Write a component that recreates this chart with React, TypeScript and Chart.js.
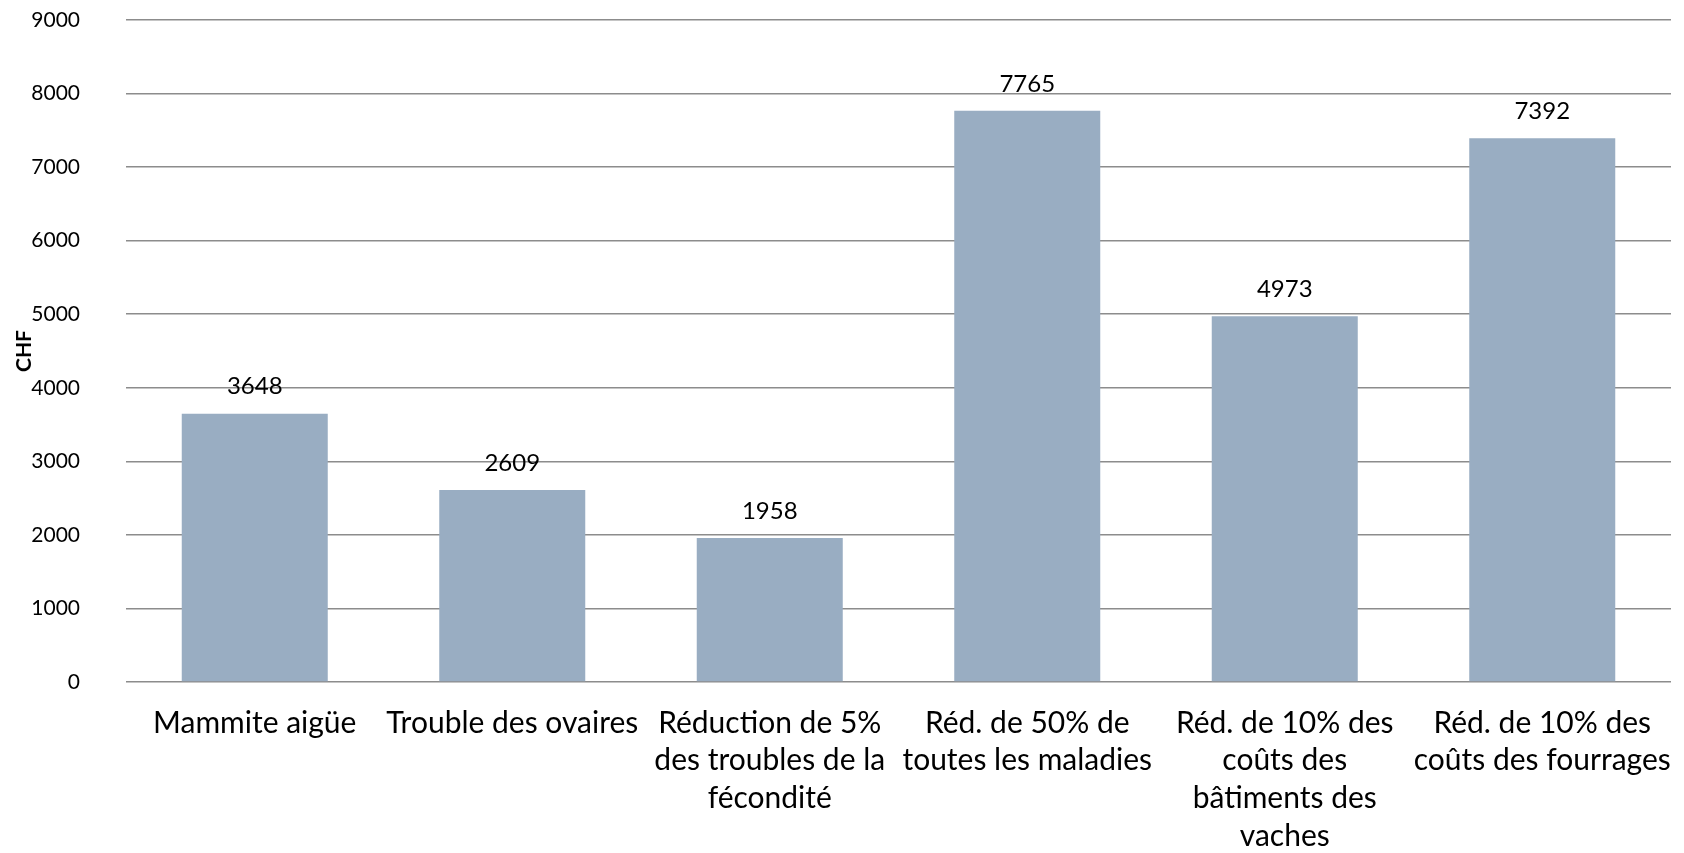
import React, { useEffect, useRef } from "react";
import { Chart, registerables } from "chart.js";

Chart.register(...registerables);

const categories: (string | string[])[] = [
  "Mammite aigüe",
  "Trouble des ovaires",
  ["Réduction de 5%", "des troubles de la", "fécondité"],
  ["Réd. de 50% de", "toutes les maladies"],
  ["Réd. de 10% des", "coûts des", "bâtiments des", "vaches"],
  ["Réd. de 10% des", "coûts des fourrages"],
];
const values: number[] = [3648, 2609, 1958, 7765, 4973, 7392];
const yAxisTitle = "CHF";
const yMin = 0;
const yMax = 9000;
const yStep = 1000;

const FONT = "Lato, 'Open Sans', sans-serif";

const dataLabelPlugin = {
  id: "dataLabels",
  afterDatasetsDraw(chart: any) {
    const ctx = chart.ctx;
    const meta = chart.getDatasetMeta(0);
    ctx.save();
    ctx.font = `24px ${FONT}`;
    ctx.fillStyle = "#000";
    ctx.textAlign = "center";
    ctx.textBaseline = "middle";
    meta.data.forEach((bar: any, i: number) => {
      ctx.fillText(String(values[i]), bar.x, bar.y - 27);
    });
    ctx.restore();
  },
};

export default function App() {
  const ref = useRef<HTMLCanvasElement | null>(null);
  useEffect(() => {
    document.body.style.margin = "0";
    const chart = new Chart(ref.current as HTMLCanvasElement, {
      type: "bar",
      data: {
        labels: categories,
        datasets: [
          {
            data: values,
            backgroundColor: "#99adc2",
            barPercentage: 0.567,
            categoryPercentage: 1,
          },
        ],
      },
      options: {
        animation: false,
        responsive: false,
        maintainAspectRatio: false,
        layout: { padding: { top: 20, right: 13, bottom: 0, left: 0 } },
        plugins: { legend: { display: false }, tooltip: { enabled: false } },
        scales: {
          x: {
            grid: { display: false, drawTicks: false },
            border: { display: false },
            ticks: {
              color: "#000",
              padding: 22,
              maxRotation: 0,
              autoSkip: false,
              font: { family: FONT, size: 30, lineHeight: 1.26 },
            },
            afterFit: (scale: any) => {
              scale.height = 171;
              scale.paddingLeft = 0;
              scale.paddingRight = 0;
            },
          },
          y: {
            min: yMin,
            max: yMax,
            grid: { color: "#8c8c8c", lineWidth: 1.6, drawTicks: false },
            border: { display: false },
            ticks: {
              stepSize: yStep,
              color: "#000",
              padding: 46,
              font: { family: FONT, size: 21 },
              callback: (v: any) => String(v),
            },
            title: {
              display: true,
              text: yAxisTitle,
              color: "#000",
              font: { family: FONT, size: 21, weight: "bold" },
              padding: { top: 12, bottom: 0 },
            },
            afterFit: (scale: any) => {
              scale.width = 126;
              scale.paddingTop = 0;
              scale.paddingBottom = 0;
            },
          },
        },
      },
      plugins: [dataLabelPlugin],
    });
    return () => chart.destroy();
  }, []);
  return <canvas ref={ref} width={1684} height={853} style={{ display: "block" }} />;
}
